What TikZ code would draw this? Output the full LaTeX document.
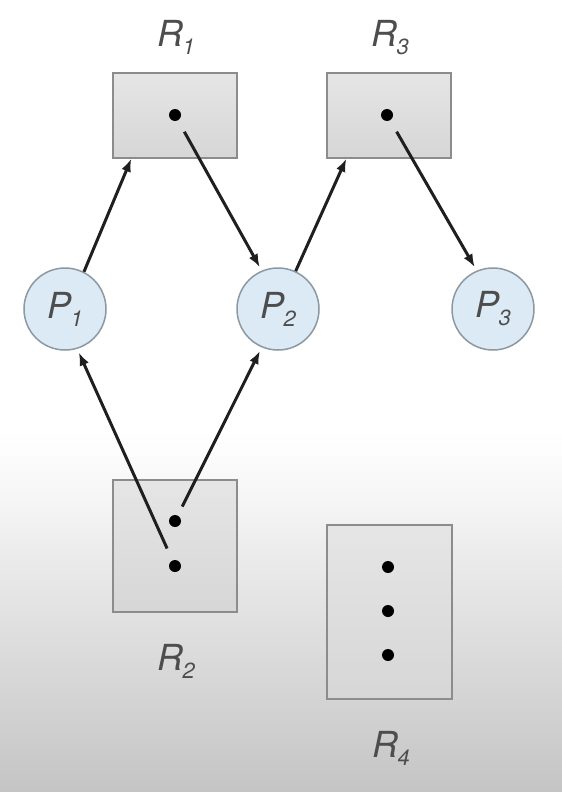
\documentclass[tikz,border=0pt]{standalone}
\usepackage{fontspec}
\setmainfont{TeX Gyre Heros}
\usetikzlibrary{arrows.meta,calc}
\definecolor{procfill}{HTML}{DCEAF5}
\definecolor{procedge}{HTML}{8C99A3}
\definecolor{labtext}{HTML}{4D4D4D}
\pgfdeclareverticalshading{bgshade}{100bp}{color(0bp)=(black!23); color(25bp)=(black!23); color(40bp)=(black!16); color(55bp)=(black!9); color(67bp)=(black!3); color(75bp)=(white); color(100bp)=(white)}
\newcommand{\mylab}[2]{{\fontsize{36}{36}\selectfont\itshape #1\kern-0.5bp\raisebox{-8bp}{\fontsize{22}{22}\selectfont #2}}}
\tikzset{
  resbox/.style={draw=black!45, line width=1.5bp, top color=gray!20, bottom color=gray!32, inner sep=0pt},
  proc/.style={circle, draw=procedge, line width=1.5bp, fill=procfill, minimum size=82bp, inner sep=0pt, text=labtext},
  tok/.style={circle, fill=black, minimum size=12bp, inner sep=0pt},
  lbl/.style={anchor=base, inner sep=0pt, text=labtext},
  arr/.style={draw=black!88, line width=3bp, -{Latex[length=13bp,width=10bp]}}
}
\begin{document}
\begin{tikzpicture}[x=1bp, y=-1bp]
\useasboundingbox (0,0) rectangle (562,792);
\fill[white] (0,0) rectangle (562,792);
\shade[shading=bgshade] (0,430) rectangle (562,792);

% resources
\node[resbox, minimum width=124bp, minimum height=85bp] (r1) at (175,115.5) {};
\node[resbox, minimum width=124bp, minimum height=85bp] (r3) at (389,115.5) {};
\node[resbox, minimum width=124bp, minimum height=132bp] (r2) at (175,546) {};
\node[resbox, minimum width=125bp, minimum height=174bp] (r4) at (389.5,612) {};

% instances
\node[tok] (r1d) at (175,115) {};
\node[tok] (r3d) at (387,115) {};
\node[tok] (r2a) at (175,521) {};
\node[tok] (r2b) at (175,566) {};
\node[tok] (r4a) at (388,567) {};
\node[tok] (r4b) at (388,611) {};
\node[tok] (r4c) at (388,655) {};

% labels
\node[lbl] (l1) at (176,47) {\mylab{R}{1}};
\node[lbl] (l3) at (390,47) {\mylab{R}{3}};
\node[lbl] (l2) at (176,670) {\mylab{R}{2}};
\node[lbl] (l4) at (391,757) {\mylab{R}{4}};

% processes
\node[proc] (p1) at (65,309) {\mylab{P}{1}};
\node[proc] (p2) at (278,309) {\mylab{P}{2}};
\node[proc] (p3) at (493,309) {\mylab{P}{3}};

% edges
\draw[arr] (p1.63) -- ($(r1.south west)+(19,0)$);
\draw[arr, shorten <=13bp, shorten >=4bp] (r1d) -- (p2.113);
\draw[arr] (p2.65) -- ($(r3.south west)+(20,0)$);
\draw[arr, shorten <=13bp, shorten >=4bp] (r3d) -- (p3.113);
\draw[arr, shorten <=13bp, shorten >=4bp] (r2b) -- (p1.287);
\draw[arr, shorten <=10bp, shorten >=4bp] (r2a) -- (p2.247);
\end{tikzpicture}
\end{document}
